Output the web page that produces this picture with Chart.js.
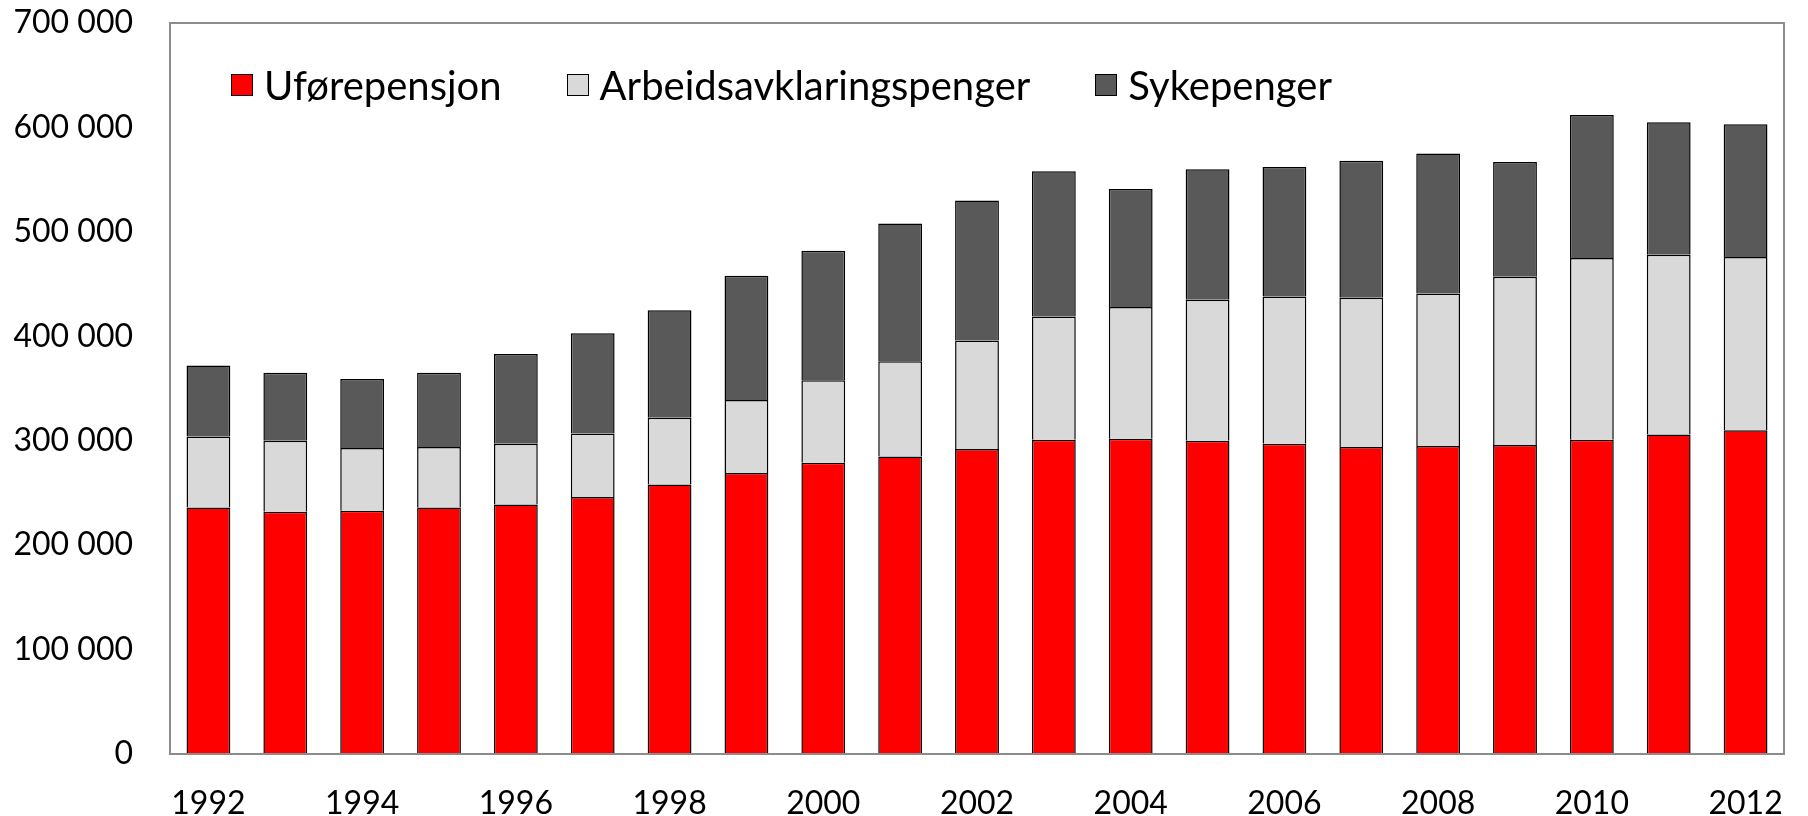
<!DOCTYPE html>
<html>
<head>
<meta charset="utf-8">
<script src="https://cdn.jsdelivr.net/npm/chart.js@4.4.1/dist/chart.umd.min.js"></script>
<style>
  html, body { margin: 0; padding: 0; background: #fff; }
  #wrap { position: relative; width: 1808px; height: 816px; }
  #legend {
    position: absolute; left: 231px; top: 61px; display: flex; align-items: center;
    font-family: Lato, "Open Sans", sans-serif; font-size: 40px; line-height: 48px; color: #000;
  }
  #legend .item { display: flex; align-items: center; margin-right: 65px; }
  #legend .box { width: 20px; height: 20px; border: 1.5px solid #000; margin-right: 11px; }
</style>
</head>
<body>
<div id="wrap">
  <canvas id="chart" width="1808" height="816"></canvas>
  <div id="legend"></div>
</div>
<script>
// data
const years = ['1992', '1993', '1994', '1995', '1996', '1997', '1998', '1999', '2000', '2001', '2002',
               '2003', '2004', '2005', '2006', '2007', '2008', '2009', '2010', '2011', '2012'];
const uforepensjon = [236000, 232000, 233000, 236000, 239000, 246000, 258000, 269000, 279000, 285000, 292000,
                      301000, 302000, 300000, 297000, 294000, 295000, 296000, 301000, 306000, 310000];
const arbeidsavklaring = [68000, 68000, 60000, 58000, 58000, 61000, 64000, 70000, 79000, 91000, 104000,
                          118000, 126000, 135000, 141000, 143000, 146000, 161000, 174000, 172000, 166000];
const sykepenger = [68000, 65000, 66000, 71000, 86000, 96000, 103000, 119000, 124000, 132000, 134000,
                    139000, 113000, 125000, 124000, 131000, 134000, 110000, 137000, 127000, 127000];
const yTicks = [0, 100000, 200000, 300000, 400000, 500000, 600000, 700000];

const seriesNames = ['Uførepensjon', 'Arbeidsavklaringspenger', 'Sykepenger'];
const seriesColors = ['#ff0000', '#d9d9d9', '#595959'];

const fontFamily = 'Lato, "Open Sans", sans-serif';

function fmt(v) {
    return String(v).replace(/\B(?=(\d{3})+(?!\d))/g, ' ');
}

// gray frame round the plot area
const frame = {
    id: 'frame',
    afterDatasetsDraw(chart) {
        const a = chart.chartArea;
        const c = chart.ctx;
        c.save();
        c.strokeStyle = '#8c8c8c';
        c.lineWidth = 2;
        c.strokeRect(a.left, a.top, a.right - a.left, a.bottom - a.top);
        c.restore();
    }
};

const values = [uforepensjon, arbeidsavklaring, sykepenger];

new Chart(document.getElementById('chart'), {
    type: 'bar',
    data: {
        labels: years,
        datasets: seriesNames.map((name, i) => ({
            label: name,
            data: values[i],
            backgroundColor: seriesColors[i],
            borderColor: '#000',
            borderWidth: 1.5,
            barPercentage: 0.57,
            categoryPercentage: 1
        }))
    },
    options: {
        responsive: false,
        animation: false,
        layout: { padding: { top: 23, right: 24, left: 0, bottom: 0 } },
        plugins: {
            legend: { display: false },
            tooltip: { enabled: false }
        },
        scales: {
            x: {
                stacked: true,
                grid: { display: false, drawTicks: false },
                border: { display: false },
                ticks: {
                    color: '#000',
                    font: { family: fontFamily, size: 32 },
                    padding: 30,
                    autoSkip: false,
                    maxRotation: 0,
                    callback: (v, i) => (i % 2 === 0 ? years[i] : '')
                },
                afterFit: s => { s.height = 62; s.paddingLeft = 0; s.paddingRight = 0; }
            },
            y: {
                stacked: true,
                min: 0,
                max: 700000,
                grid: { display: false, drawTicks: false },
                border: { display: false },
                afterBuildTicks: s => { s.ticks = yTicks.map(v => ({ value: v })); },
                ticks: {
                    color: '#000',
                    font: { family: fontFamily, size: 32 },
                    padding: 37,
                    callback: v => fmt(v)
                },
                afterFit: s => { s.width = 170; s.paddingTop = 0; s.paddingBottom = 0; }
            }
        }
    },
    plugins: [frame]
});

// legend inside the plot, as html text
const legend = document.getElementById('legend');
seriesNames.forEach((name, i) => {
    const item = document.createElement('div');
    item.className = 'item';
    const box = document.createElement('div');
    box.className = 'box';
    box.style.background = seriesColors[i];
    const label = document.createElement('span');
    label.textContent = name;
    item.appendChild(box);
    item.appendChild(label);
    legend.appendChild(item);
});
</script>
</body>
</html>
